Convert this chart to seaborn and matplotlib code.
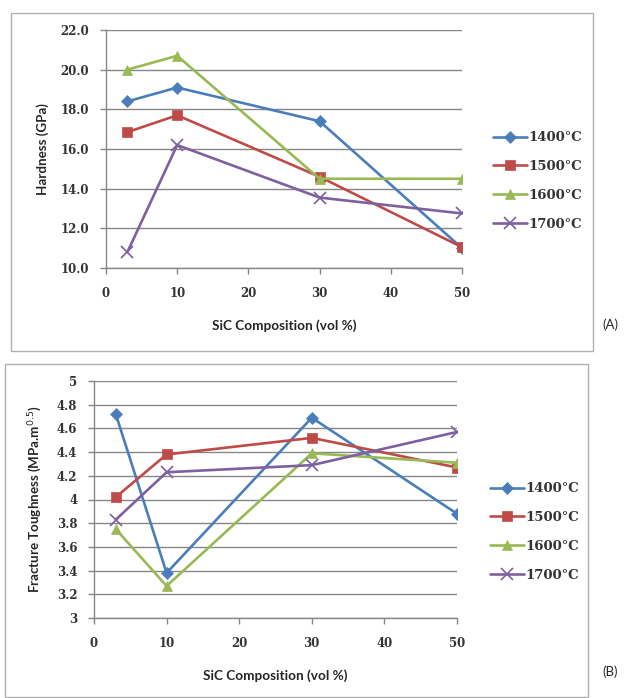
import numpy as np
import pandas as pd
import seaborn as sns
import matplotlib.pyplot as plt
from matplotlib.patches import Rectangle
from matplotlib.ticker import MultipleLocator, FuncFormatter

# -- data
sic = [3, 10, 30, 50]
temps = ["1400°C", "1500°C", "1600°C", "1700°C"]

hard_1400 = [18.4, 19.1, 17.4, 11.0]
hard_1500 = [16.85, 17.7, 14.6, 11.05]
hard_1600 = [20.0, 20.7, 14.5, 14.5]
hard_1700 = [10.8, 16.2, 13.55, 12.75]

tough_1400 = [4.72, 3.38, 4.69, 3.88]
tough_1500 = [4.02, 4.38, 4.52, 4.27]
tough_1600 = [3.75, 3.27, 4.39, 4.31]
tough_1700 = [3.83, 4.23, 4.29, 4.57]

colors = ["#4A7EBB", "#BE4B48", "#98B954", "#7D60A0"]
markers = ["D", "s", "^", "x"]
msizes = [6, 7.5, 7, 8]

sns.set_style("white")
serif = ["DejaVu Serif"]
sans = ["Lato", "DejaVu Sans"]
grey = "#868686"


def to_long(series):
    rows = []
    for t, vals in zip(temps, series):
        for x, v in zip(sic, vals):
            rows.append({"sic": x, "val": v, "temp": t})
    return pd.DataFrame(rows)


def draw_panel(ax, df, ylim, ystep, yfmt, ylabel, lab_coords, leg_anchor):
    for t, c, m, ms in zip(temps, colors, markers, msizes):
        sub = df[df["temp"] == t]
        sns.lineplot(data=sub, x="sic", y="val", ax=ax, color=c, marker=m,
                     markersize=ms, markeredgecolor=c, markeredgewidth=1.2 if m == "x" else 0.5,
                     linewidth=1.9, label=t, sort=False)
    ax.set_xlim(0, 50)
    ax.set_ylim(*ylim)
    ax.xaxis.set_major_locator(MultipleLocator(10))
    ax.yaxis.set_major_locator(MultipleLocator(ystep))
    ax.yaxis.set_major_formatter(FuncFormatter(yfmt))
    ax.grid(axis="y", color=grey, linewidth=1)
    ax.grid(axis="x", visible=False)
    for s in ["top", "right"]:
        ax.spines[s].set_visible(False)
    for s in ["left", "bottom"]:
        ax.spines[s].set_color(grey)
        ax.spines[s].set_linewidth(1)
    ax.tick_params(axis="both", which="major", direction="out", length=4,
                   color=grey, width=1, left=True, bottom=True)
    ax.tick_params(axis="x", pad=10)
    ax.tick_params(axis="y", pad=8)
    for lbl in ax.get_xticklabels() + ax.get_yticklabels():
        lbl.set_family(serif)
        lbl.set_fontweight("bold")
        lbl.set_fontsize(8.5)
        lbl.set_color("#333333")
    ax.set_xlabel("SiC Composition (vol %)", family=sans, fontweight="bold", fontsize=9.8)
    ax.set_ylabel(ylabel, family=sans, fontweight="bold", fontsize=9.6)
    ax.xaxis.set_label_coords(0.5, lab_coords[1])
    ax.yaxis.set_label_coords(lab_coords[0], 0.5)
    leg = ax.legend(loc="center left", bbox_to_anchor=leg_anchor, frameon=False,
                    handlelength=2.6, handletextpad=0.1, labelspacing=1.2,
                    borderpad=0, borderaxespad=0,
                    prop={"family": serif, "weight": "bold", "size": 9.5})
    for txt in leg.get_texts():
        txt.set_color("#333333")


fig = plt.figure(figsize=(6.27, 6.98), dpi=100)
W, H = 627, 698


def px_rect(x0, y0, x1, y1):
    return [x0 / W, 1 - y1 / H, (x1 - x0) / W, (y1 - y0) / H]


# outer chart frames
for x0, y0, x1, y1 in [(11, 13, 593, 351), (5, 364, 588, 697)]:
    fig.patches.append(Rectangle((x0 / W, 1 - y1 / H), (x1 - x0) / W, (y1 - y0) / H,
                                 transform=fig.transFigure, fill=False,
                                 edgecolor="#b0b0b0", linewidth=1))

ax_a = fig.add_axes(px_rect(106, 30, 462, 268))
ax_b = fig.add_axes(px_rect(94, 381, 457, 618))

df_a = to_long([hard_1400, hard_1500, hard_1600, hard_1700])
df_b = to_long([tough_1400, tough_1500, tough_1600, tough_1700])

draw_panel(ax_a, df_a, (10, 22), 2, lambda v, p: f"{v:.1f}", "Hardness (GPa)",
           (-0.16, -0.215), (1.087, 0.366))
draw_panel(ax_b, df_b, (3, 5), 0.2, lambda v, p: f"{round(v, 1):g}",
           "Fracture Toughness (MPa.m$^{0.5}$)", (-0.138, -0.215), (1.09, 0.363))

fig.text(610 / W, 1 - 325 / H, "(A)", family=sans, fontsize=9.5, ha="center", va="center")
fig.text(610 / W, 1 - 672 / H, "(B)", family=sans, fontsize=9.5, ha="center", va="center")

fig.savefig("out.png", dpi=100)
